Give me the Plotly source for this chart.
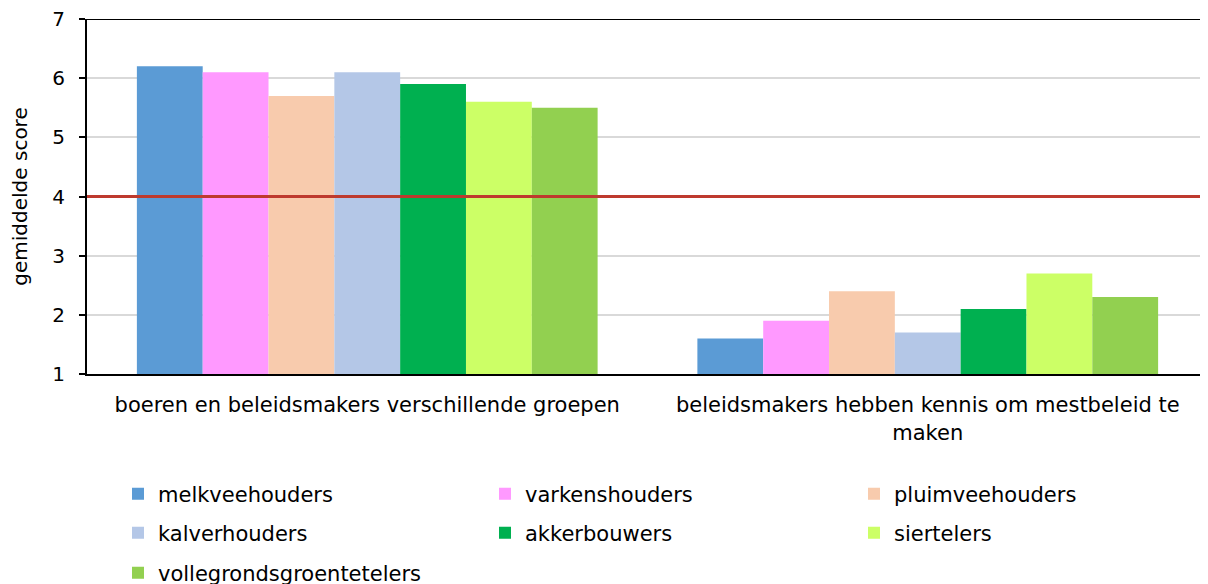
import plotly.graph_objects as go

categories = ["boeren en beleidsmakers verschillende groepen",
              "beleidsmakers hebben kennis om mestbeleid te<br>maken"]
series_names = ["melkveehouders", "varkenshouders", "pluimveehouders",
                "kalverhouders", "akkerbouwers", "siertelers",
                "vollegrondsgroentetelers"]
melkveehouders = [6.2, 1.6]
varkenshouders = [6.1, 1.9]
pluimveehouders = [5.7, 2.4]
kalverhouders = [6.1, 1.7]
akkerbouwers = [5.9, 2.1]
siertelers = [5.6, 2.7]
vollegrondsgroentetelers = [5.5, 2.3]
values = [melkveehouders, varkenshouders, pluimveehouders, kalverhouders,
          akkerbouwers, siertelers, vollegrondsgroentetelers]
colors = ["#5B9BD5", "#FF99FF", "#F8CBAD", "#B4C7E7", "#00B050", "#CCFF66", "#92D050"]
reference_value = 4
y_ticks = [1, 2, 3, 4, 5, 6, 7]

FONT = "Verdana, DejaVu Sans, sans-serif"
# the page body adds an 8px offset, so the figure is 8px smaller
W, H = 1200, 576
legend_cols_px = [110, 477, 846]
legend_rows_px = [486, 525, 565]

fig = go.Figure()
legend_layouts = {}
for i, (name, vals, col) in enumerate(zip(series_names, values, colors)):
    lid = "legend" if i == 0 else f"legend{i + 1}"
    fig.add_trace(go.Bar(name=name, x=categories, y=vals, marker_color=col,
                         marker_line_width=0, legend=lid, showlegend=True))
    cx = legend_cols_px[i % 3]
    ry = legend_rows_px[i // 3]
    legend_layouts[lid] = dict(
        orientation="h", xref="container", yref="container",
        x=cx / W, xanchor="left", y=1 - ry / H, yanchor="middle",
        font=dict(family=FONT, size=21, color="black"),
        bgcolor="rgba(0,0,0,0)", itemclick=False, itemdoubleclick=False)

fig.add_shape(type="line", xref="paper", x0=0, x1=1, yref="y",
              y0=reference_value, y1=reference_value,
              line=dict(color="#BE3A2E", width=3), layer="above")
fig.add_shape(type="line", xref="paper", x0=0, x1=1, yref="y", y0=7, y1=7,
              line=dict(color="black", width=2), layer="above")

fig.update_layout(
    width=W, height=H, showlegend=True,
    margin=dict(l=79, r=0, t=11, b=210, autoexpand=False),
    paper_bgcolor="white", plot_bgcolor="white",
    barmode="group", bargap=0.178, bargroupgap=0,
    font=dict(family=FONT, size=20, color="black"),
    xaxis=dict(showline=True, linecolor="black", linewidth=2, ticks="",
               automargin=False, ticklabelstandoff=11,
               tickfont=dict(family=FONT, size=21, color="black")),
    yaxis=dict(range=[1, 7], tickvals=y_ticks, showline=True, linecolor="black",
               linewidth=2, ticks="outside", ticklen=6, tickcolor="black",
               tickwidth=1.5, showgrid=True, gridcolor="#D9D9D9", gridwidth=2,
               zeroline=False, automargin=False, ticklabelstandoff=10,
               ticklabeloverflow="allow",
               tickfont=dict(family=FONT, size=20, color="black"),
               title=dict(text="gemiddelde score", standoff=28,
                          font=dict(family=FONT, size=20, color="black"))),
)
fig.update_layout(**legend_layouts)

fig.write_html("out.html")
